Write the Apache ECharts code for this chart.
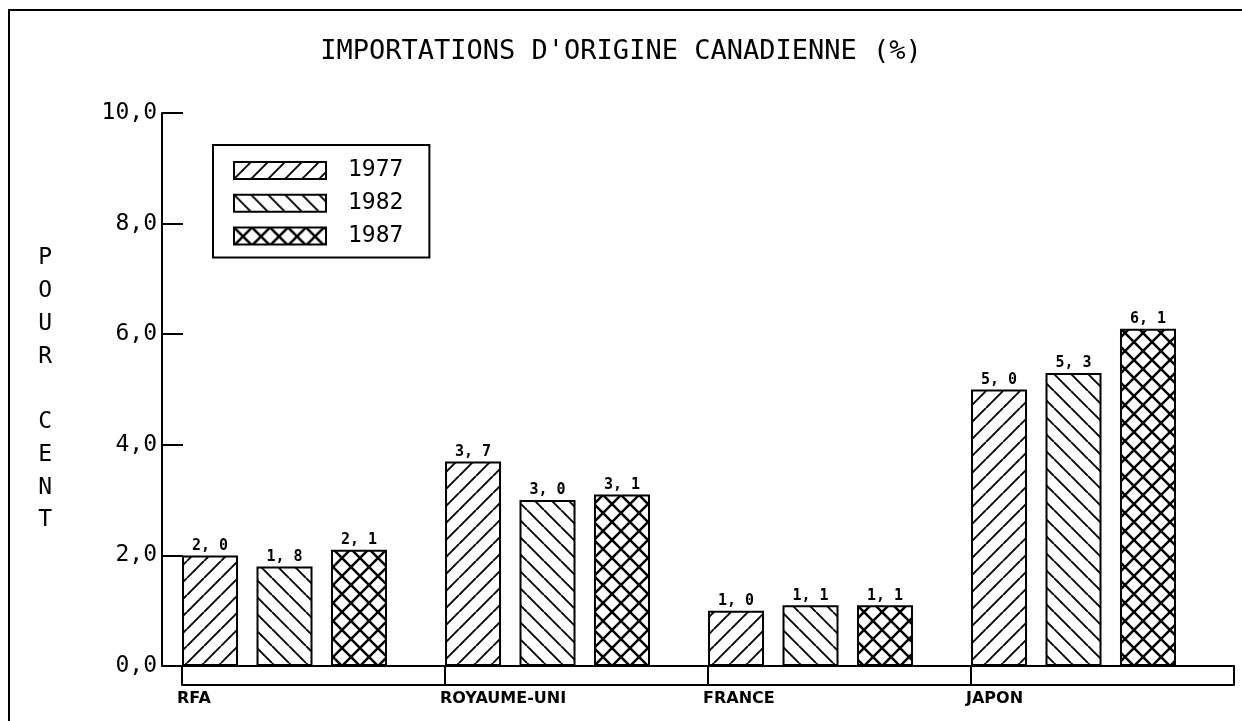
<!DOCTYPE html>
<html>
<head>
<meta charset="utf-8">
<script src="https://cdn.jsdelivr.net/npm/echarts@6/dist/echarts.min.js"></script>
<style>
  html, body { margin: 0; padding: 0; background: #fff; }
  #chart { width: 1242px; height: 721px; }
</style>
</head>
<body>
<div id="chart"></div>
<script>
// données
var categories = ['RFA', 'ROYAUME-UNI', 'FRANCE', 'JAPON'];
var years = ['1977', '1982', '1987'];
var v1977 = [2.0, 3.7, 1.0, 5.0];
var v1982 = [1.8, 3.0, 1.1, 5.3];
var v1987 = [2.1, 3.1, 1.1, 6.1];
var yTickLabels = ['0,0', '2,0', '4,0', '6,0', '8,0', '10,0'];

var mono = 'DejaVu Sans Mono';

// motifs de hachures
function hatch(size, dirs, lw) {
  var c = document.createElement('canvas');
  c.width = c.height = size;
  var ctx = c.getContext('2d');
  ctx.fillStyle = '#fff';
  ctx.fillRect(0, 0, size, size);
  ctx.strokeStyle = '#000';
  ctx.lineWidth = lw;
  dirs.forEach(function (d) {
    ctx.beginPath();
    for (var k = -1; k <= 1; k++) {
      if (d == '/') {
        ctx.moveTo(k * size, size); ctx.lineTo(k * size + size, 0);
      } else {
        ctx.moveTo(k * size, 0); ctx.lineTo(k * size + size, size);
      }
    }
    ctx.stroke();
  });
  return { image: c, repeat: 'repeat' };
}
var patterns = [hatch(17, ['/'], 1.9), hatch(17, ['\\'], 1.9), hatch(18, ['/', '\\'], 2.5)];

function barSeries(name, data, idx) {
  return {
    name: name,
    type: 'bar',
    data: data,
    barWidth: 56,
    barGap: '33%',
    itemStyle: { color: patterns[idx], borderColor: '#000', borderWidth: 2 },
    label: {
      show: true,
      position: 'top',
      distance: 2,
      color: '#000',
      fontFamily: mono,
      fontWeight: 'bold',
      fontSize: 15,
      formatter: function (p) { return p.value.toFixed(1).replace('.', ', '); }
    }
  };
}

var chart = echarts.init(document.getElementById('chart'), null, { renderer: 'canvas' });

var option = {
  backgroundColor: '#fff',
  animation: false,
  title: {
    text: "IMPORTATIONS D'ORIGINE CANADIENNE (%)",
    left: 'center',
    top: 33,
    textStyle: { fontFamily: mono, fontSize: 27, fontWeight: 'normal', color: '#000' }
  },
  legend: {
    data: years,
    orient: 'vertical',
    left: 213,
    top: 145,
    padding: [14, 26, 10, 20],
    itemWidth: 92,
    itemHeight: 17,
    itemGap: 9.7,
    borderColor: '#000',
    borderWidth: 2,
    backgroundColor: '#fff',
    selectedMode: false,
    icon: 'rect',
    itemStyle: { borderColor: '#000', borderWidth: 2 },
    textStyle: { fontFamily: mono, fontSize: 23, color: '#000', lineHeight: 17, padding: [0, 0, 0, 17] }
  },
  graphic: [{
    type: 'rect',
    silent: true,
    shape: { x: 9, y: 10, width: 1300, height: 800 },
    style: { fill: null, stroke: '#000', lineWidth: 2 }
  }],
  grid: { left: 182, right: 8, top: 113, bottom: 55, containLabel: false },
  xAxis: [{
    type: 'category',
    data: categories,
    boundaryGap: true,
    axisLine: { onZero: false, lineStyle: { color: '#000', width: 2 } },
    axisTick: { show: true, interval: 0, length: 19, lineStyle: { color: '#000', width: 2 } },
    axisLabel: {
      interval: 0,
      margin: 25,
      formatter: function (v) { return '{a|' + v + '}'; },
      rich: {
        a: { width: 273, align: 'left', fontFamily: 'DejaVu Sans', fontWeight: 'bold', fontSize: 16, color: '#000', lineHeight: 16 }
      }
    },
    splitLine: { show: false }
  }, {
    type: 'category',
    data: categories,
    position: 'bottom',
    offset: 19,
    axisLine: { onZero: false, lineStyle: { color: '#000', width: 2 } },
    axisTick: { show: false },
    axisLabel: { show: false },
    splitLine: { show: false }
  }],
  yAxis: {
    type: 'value',
    min: 0,
    max: 10,
    interval: 2,
    offset: 20,
    name: 'P\nO\nU\nR\n\nC\nE\nN\nT',
    nameLocation: 'middle',
    nameRotate: 0,
    nameGap: 110,
    nameTextStyle: { fontFamily: mono, fontSize: 23, color: '#000', lineHeight: 32.75 },
    axisLine: { show: true, onZero: false, lineStyle: { color: '#000', width: 2 } },
    axisTick: { show: true, inside: true, length: 21, lineStyle: { color: '#000', width: 2 } },
    axisLabel: {
      margin: 5,
      fontFamily: mono,
      fontSize: 23,
      color: '#000',
      formatter: function (v, i) { return yTickLabels[i]; }
    },
    splitLine: { show: false }
  },
  series: [
    barSeries(years[0], v1977, 0),
    barSeries(years[1], v1982, 1),
    barSeries(years[2], v1987, 2),
    // série vide pour caler les groupes à gauche de chaque catégorie
    { name: 'cale', type: 'bar', barWidth: 39.5, barGap: '33%', silent: true, data: [null, null, null, null] }
  ]
};

chart.setOption(option);
</script>
</body>
</html>
